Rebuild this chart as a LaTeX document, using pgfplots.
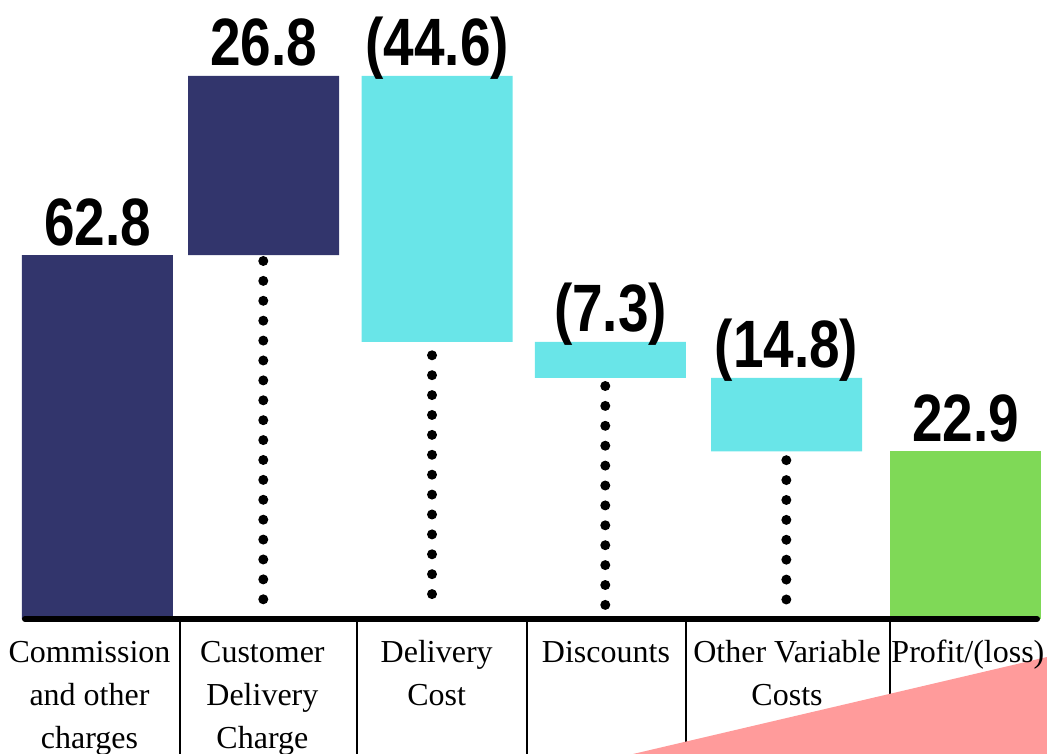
\documentclass[border=0pt]{standalone}
\usepackage{fontspec}
\setmainfont{Liberation Serif}
\newfontfamily\valfont{Liberation Sans}[FakeStretch=0.82]
\usepackage{pgfplots}
\pgfplotsset{compat=1.18}
\definecolor{navyb}{RGB}{50,53,108}
\definecolor{cyanb}{RGB}{105,229,232}
\definecolor{greenb}{RGB}{127,217,87}
\definecolor{pinkb}{RGB}{255,155,155}
\begin{document}
\begin{tikzpicture}
\pgfplotsset{base/.style={at={(0,0)}, anchor=south west, scale only axis,
  width=1047pt, height=754pt, xmin=-0.5616, xmax=5.4695, ymin=-23.29, ymax=106.8, hide axis}}
% bars (stacked waterfall)
\begin{axis}[base, ybar stacked, bar width=151pt]
\addplot[fill=none, draw=none] coordinates {(0,0) (0.957,62.8) (1.957,47.8) (2.955,41.6) (3.969,28.9) (5,0)};
\addplot[fill=navyb, draw=none] coordinates {(0,62.8) (0.957,30.9) (1.957,0) (2.955,0) (3.969,0) (5,0)};
\addplot[fill=cyanb, draw=none] coordinates {(0,0) (0.957,0) (1.957,45.9) (2.955,6.2) (3.969,12.7) (5,0)};
\addplot[fill=greenb, draw=none] coordinates {(0,0) (0.957,0) (1.957,0) (2.955,0) (3.969,0) (5,28.9)};
\end{axis}
% connectors, labels, decoration
\begin{axis}[base]
\addplot[black, line width=10pt, line cap=round, dash pattern=on 0pt off 19.9pt] coordinates {(0.955,61.77) (0.955,2.9)};
\addplot[black, line width=10pt, line cap=round, dash pattern=on 0pt off 19.9pt] coordinates {(1.927,45.5) (1.927,3.5)};
\addplot[black, line width=10pt, line cap=round, dash pattern=on 0pt off 19.9pt] coordinates {(2.925,40.2) (2.925,2.4)};
\addplot[black, line width=10pt, line cap=round, dash pattern=on 0pt off 19.9pt] coordinates {(3.968,27.4) (3.968,3.0)};
\draw[line width=6pt, line cap=round] (axis cs:-0.4176,0) -- (axis cs:5.412,0);
\draw[line width=2pt] (axis cs:0.475,-0.5) -- (axis cs:0.475,-23.29);
\draw[line width=2pt] (axis cs:1.495,-0.5) -- (axis cs:1.495,-23.29);
\draw[line width=2pt] (axis cs:2.474,-0.5) -- (axis cs:2.474,-23.29);
\draw[line width=2pt] (axis cs:3.390,-0.5) -- (axis cs:3.390,-23.29);
\draw[line width=2pt] (axis cs:4.565,-0.5) -- (axis cs:4.565,-23.29);
\fill[pinkb] (axis cs:3.085,-23.29) -- (axis cs:5.4695,-6.556) -- (axis cs:5.4695,-23.29) -- cycle;
\begin{scope}[every node/.style={anchor=base, align=center, font=\fontsize{32}{43}\selectfont, inner sep=0pt}]
\node at (axis cs:-0.046,-22.26) {Commission\\and other\\charges};
\node at (axis cs:0.950,-22.26) {Customer\\Delivery\\Charge};
\node at (axis cs:1.954,-14.84) {Delivery\\Cost};
\node at (axis cs:2.929,-7.42) {Discounts};
\node at (axis cs:3.972,-14.84) {Other Variable\\Costs};
\node at (axis cs:5.014,-7.42) {Profit/(loss)};
\end{scope}
\begin{scope}[every node/.style={anchor=base, inner sep=0pt, yshift=10pt, font=\valfont\bfseries\fontsize{67}{67}\selectfont}]
\node at (axis cs:0,62.8) {62.8};
\node at (axis cs:0.957,93.7) {26.8};
\node at (axis cs:1.957,93.7) {(44.6)};
\node at (axis cs:2.955,47.8) {(7.3)};
\node at (axis cs:3.969,41.6) {(14.8)};
\node at (axis cs:5,28.9) {22.9};
\end{scope}
\end{axis}
\pgfresetboundingbox
\useasboundingbox (0,0) rectangle (1047pt,754pt);
\end{tikzpicture}
\end{document}
